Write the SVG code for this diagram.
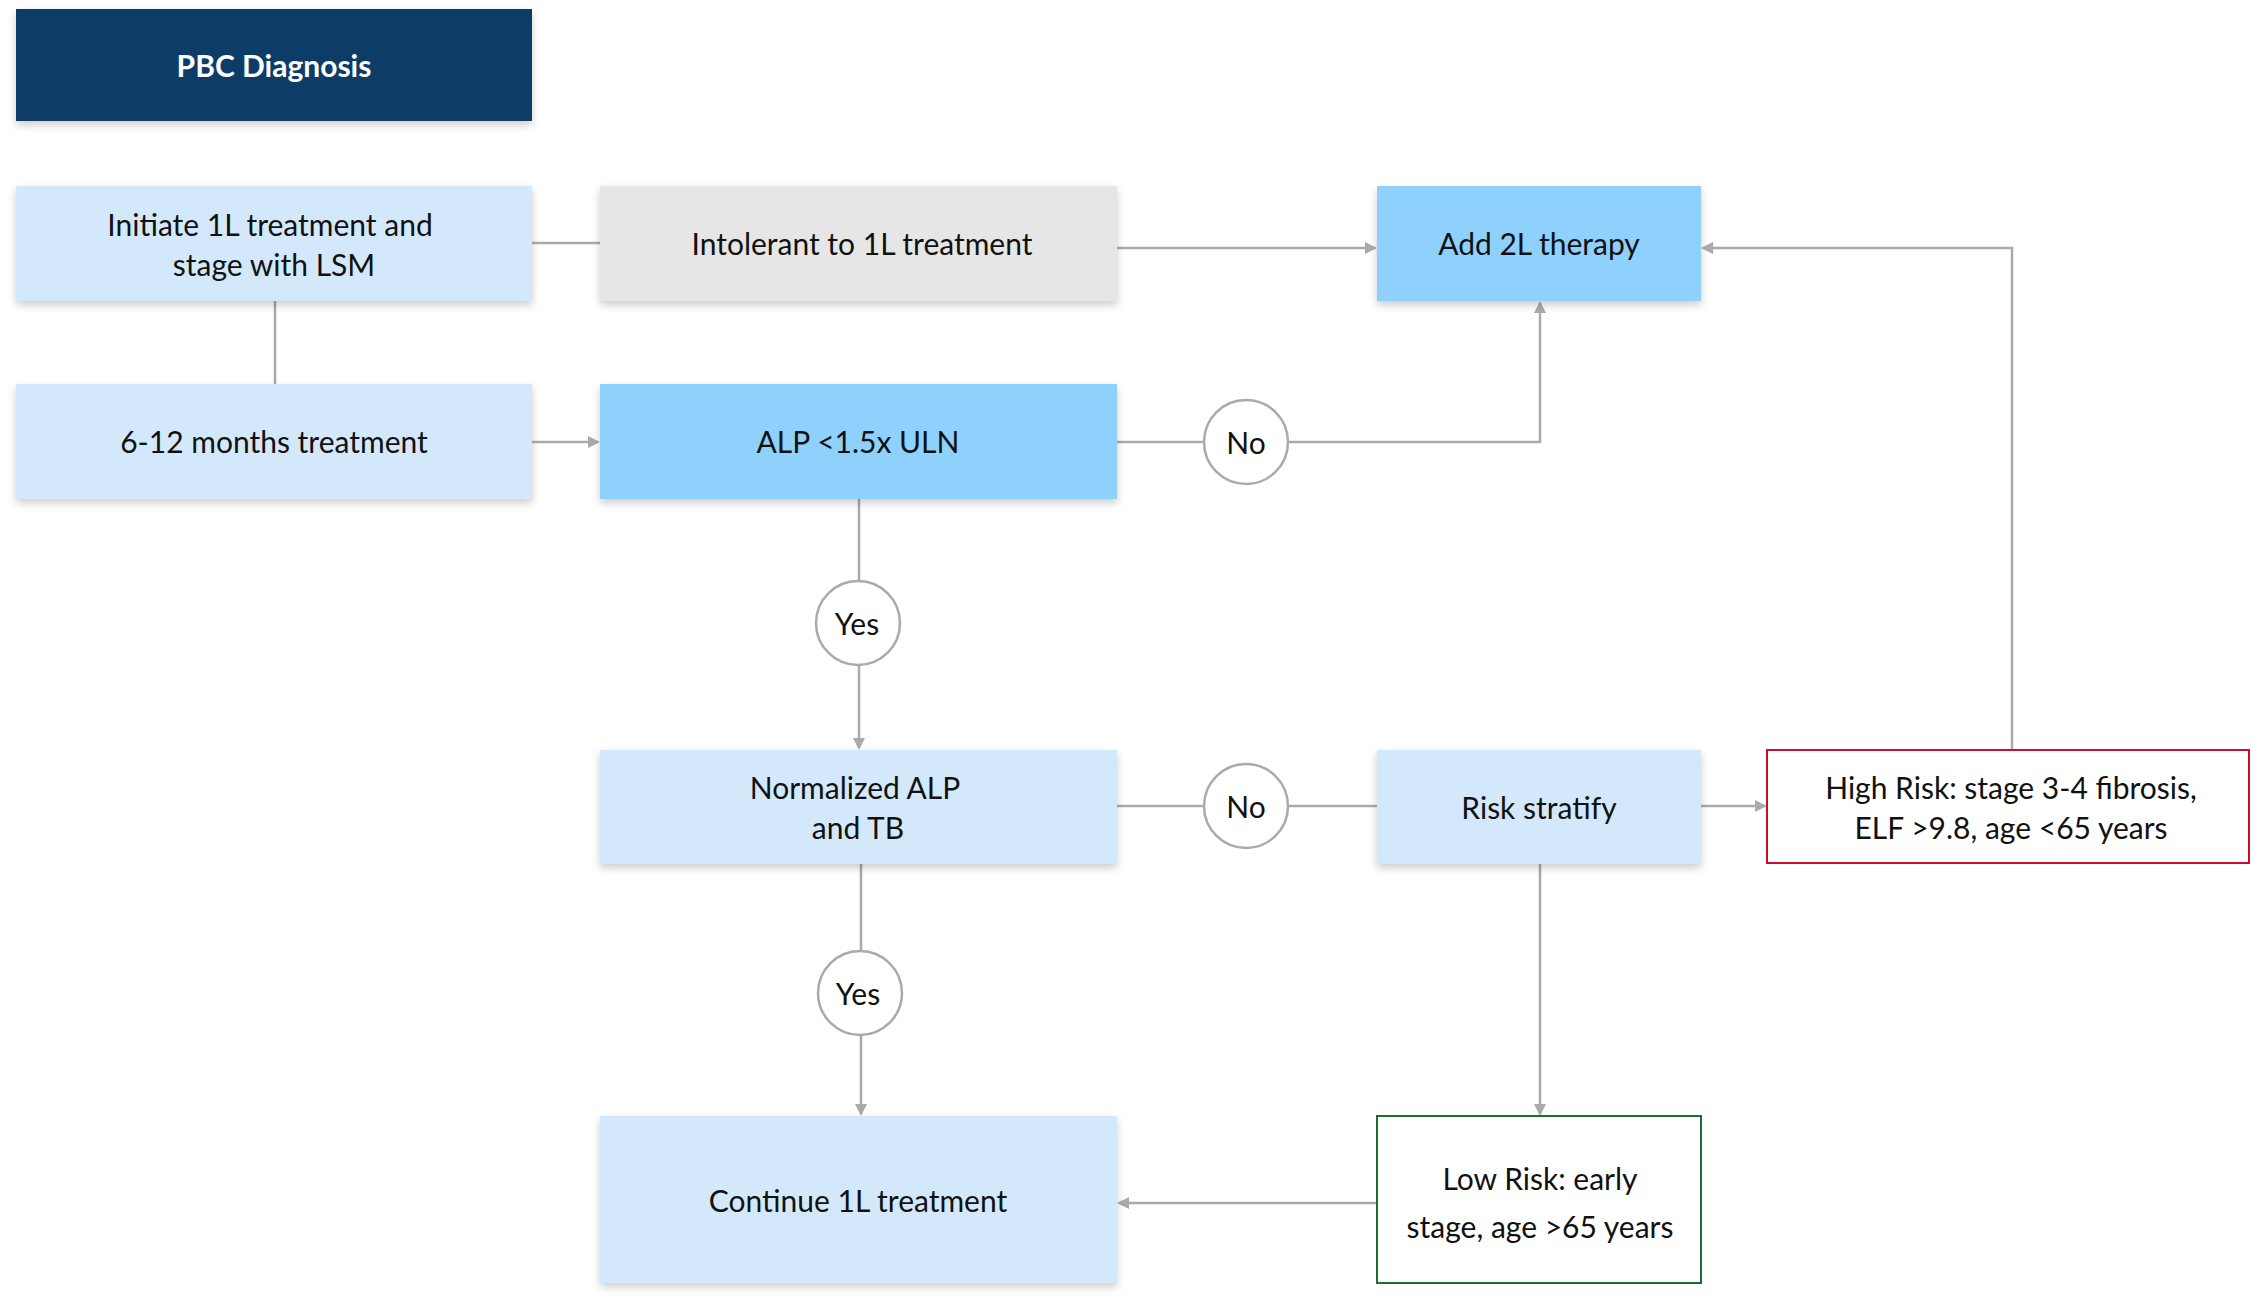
<svg xmlns="http://www.w3.org/2000/svg" width="2266" height="1308" viewBox="0 0 2266 1308">
<style>
text{font-family:Lato,"Open Sans","Liberation Sans",sans-serif;font-size:30px;fill:#111;text-anchor:middle;dominant-baseline:central}
.l{fill:#d3e9fb}.d{fill:#8fd1fd}.g{fill:#e6e6e6}
.c{stroke:#aaa;stroke-width:2.5;fill:none}
.ci{fill:#fff;stroke:#aaa;stroke-width:2.5}
</style>
<defs>
<filter id="sh" x="-10%" y="-10%" width="120%" height="130%"><feDropShadow dx="0" dy="4" stdDeviation="4" flood-color="#000" flood-opacity="0.2"/></filter>
<marker id="a" markerWidth="12" markerHeight="12" refX="10" refY="6" orient="auto" markerUnits="userSpaceOnUse"><path d="M0,0 L12,6 L0,12 z" fill="#aaa"/></marker>
</defs>
<rect width="2266" height="1308" fill="#fff"/>
<g id="connectors">
<path class="c" d="M532,243H600"/>
<path class="c" d="M1117,248H1375" marker-end="url(#a)"/>
<path class="c" d="M275,301V384"/>
<path class="c" d="M532,442H598" marker-end="url(#a)"/>
<path class="c" d="M1117,442H1204"/>
<path class="c" d="M1288,442H1540V303" marker-end="url(#a)"/>
<path class="c" d="M859,499V581"/>
<path class="c" d="M859,665V748" marker-end="url(#a)"/>
<path class="c" d="M1117,806H1204M1288,806H1377"/>
<path class="c" d="M1701,806H1765" marker-end="url(#a)"/>
<path class="c" d="M2012,750V248H1703" marker-end="url(#a)"/>
<path class="c" d="M861,864V951"/>
<path class="c" d="M861,1035V1114" marker-end="url(#a)"/>
<path class="c" d="M1540,864V1114" marker-end="url(#a)"/>
<path class="c" d="M1377,1203H1119" marker-end="url(#a)"/>
</g>
<g id="pbc"><rect x="16" y="9" width="516" height="112" fill="#0b3d66" filter="url(#sh)"/><text x="274" y="65" style="fill:#fff;font-weight:bold">PBC Diagnosis</text></g>
<g id="initiate"><rect class="l" x="16" y="186" width="516" height="115" filter="url(#sh)"/><text x="270" y="224">Initiate 1L treatment and</text><text x="274" y="264">stage with LSM</text></g>
<g id="intolerant"><rect class="g" x="600" y="186" width="517" height="115" filter="url(#sh)"/><text x="862" y="243">Intolerant to 1L treatment</text></g>
<g id="add2l"><rect class="d" x="1377" y="186" width="324" height="115" filter="url(#sh)"/><text x="1539" y="243">Add 2L therapy</text></g>
<g id="months"><rect class="l" x="16" y="384" width="516" height="115" filter="url(#sh)"/><text x="274" y="441">6-12 months treatment</text></g>
<g id="alp"><rect class="d" x="600" y="384" width="517" height="115" filter="url(#sh)"/><text x="858" y="441">ALP &lt;1.5x ULN</text></g>
<g id="no1"><circle class="ci" cx="1246" cy="442" r="42"/><text x="1246" y="442">No</text></g>
<g id="yes1"><circle class="ci" cx="858" cy="623" r="42"/><text x="857" y="623">Yes</text></g>
<g id="normalized"><rect class="l" x="600" y="750" width="517" height="114" filter="url(#sh)"/><text x="855" y="787">Normalized ALP</text><text x="858" y="827">and TB</text></g>
<g id="no2"><circle class="ci" cx="1246" cy="806" r="42"/><text x="1246" y="806">No</text></g>
<g id="risk"><rect class="l" x="1377" y="750" width="324" height="114" filter="url(#sh)"/><text x="1539" y="807">Risk stratify</text></g>
<g id="high"><rect x="1767" y="750" width="482" height="113" fill="#fff" stroke="#c8102e" stroke-width="2"/><text x="2011" y="787">High Risk: stage 3-4 fibrosis,</text><text x="2011" y="827">ELF &gt;9.8, age &lt;65 years</text></g>
<g id="yes2"><circle class="ci" cx="860" cy="993" r="42"/><text x="858" y="993">Yes</text></g>
<g id="continue"><rect class="l" x="600" y="1116" width="517" height="167" filter="url(#sh)"/><text x="858" y="1200">Continue 1L treatment</text></g>
<g id="low"><rect x="1377" y="1116" width="324" height="167" fill="#fff" stroke="#1e6b34" stroke-width="2"/><text x="1540" y="1178">Low Risk: early</text><text x="1540" y="1226">stage, age &gt;65 years</text></g>
</svg>
